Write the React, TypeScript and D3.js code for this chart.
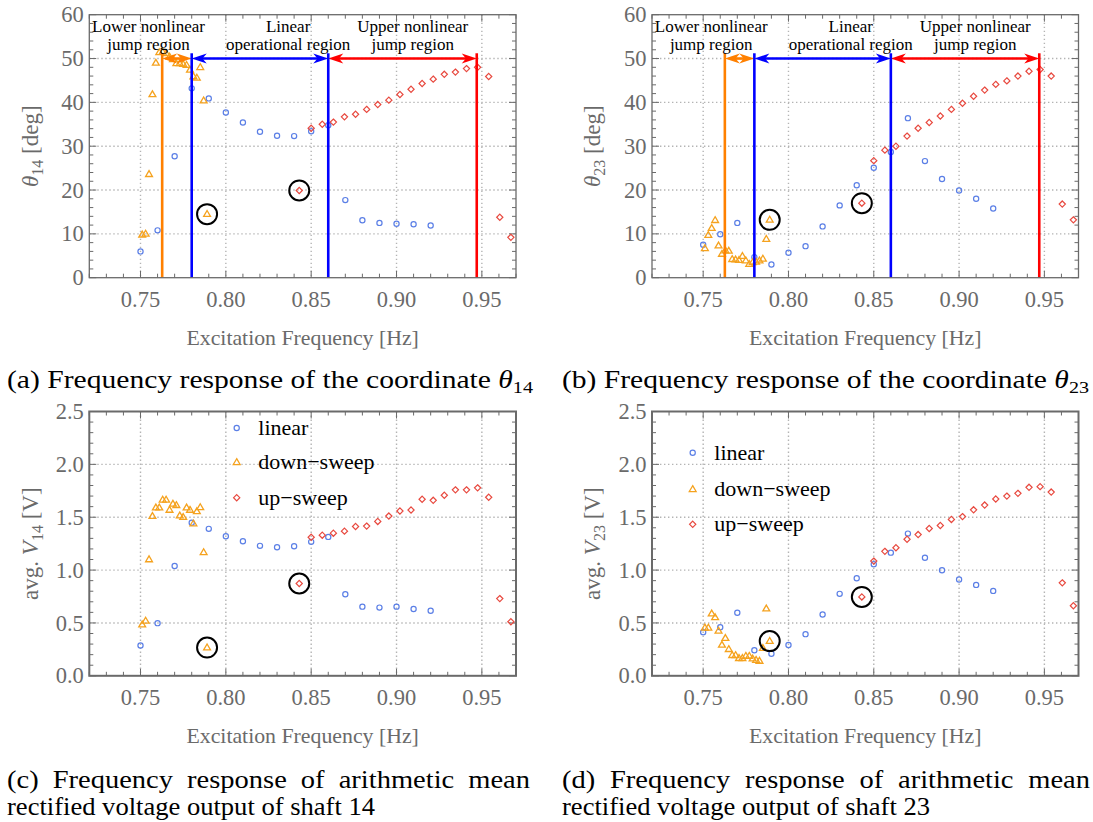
import React from 'react';
import * as d3 from 'd3';

// ---- measured frequencies [Hz] ----
const freqLinear = [0.75, 0.76, 0.77, 0.78, 0.79, 0.80, 0.81, 0.82, 0.83, 0.84, 0.85, 0.86, 0.87, 0.88, 0.89, 0.90, 0.91, 0.92];
const freqDown = [0.751, 0.753, 0.755, 0.757, 0.759, 0.761, 0.763, 0.765, 0.767, 0.769, 0.771, 0.773, 0.775, 0.777, 0.779, 0.781, 0.783, 0.785, 0.787, 0.789];
const freqUp = [0.843, 0.85, 0.8565, 0.863, 0.8695, 0.876, 0.8825, 0.889, 0.8955, 0.902, 0.9085, 0.915, 0.9215, 0.928, 0.9345, 0.941, 0.9475, 0.954, 0.9605, 0.967];

// ---- coordinate theta14 [deg] ----
const theta14Linear = [6.0, 10.8, 27.7, 43.2, 40.9, 37.7, 35.4, 33.3, 32.4, 32.3, 33.4, 34.8, 17.7, 13.1, 12.5, 12.3, 12.2, 11.9];
const theta14Down = [9.8, 10.0, 23.6, 41.8, 49.0, 51.4, 51.5, 51.2, 50.4, 49.8, 48.9, 48.9, 48.7, 48.5, 47.4, 45.9, 45.6, 48.0, 40.4, 14.5];
const theta14Up = [19.9, 34.1, 35.0, 35.5, 36.7, 37.3, 38.4, 39.5, 40.5, 41.8, 43.0, 44.3, 45.3, 46.4, 46.9, 47.7, 48.0, 45.9, 13.8, 9.2];

// ---- coordinate theta23 [deg] ----
const theta23Linear = [7.5, 9.9, 12.5, 4.7, 3.0, 5.7, 7.2, 11.7, 16.5, 21.1, 25.1, 28.7, 36.4, 26.6, 22.5, 19.9, 18.0, 15.8];
const theta23Down = [6.7, 9.7, 11.3, 13.1, 7.3, 5.4, 6.2, 6.1, 4.2, 4.1, 4.0, 4.9, 3.9, 3.1, 3.5, 3.6, 3.9, 4.3, 8.8, 13.2];
const theta23Up = [17.0, 26.7, 29.1, 30.0, 32.3, 34.1, 35.4, 36.9, 38.4, 39.8, 41.4, 42.8, 44.1, 44.9, 46.0, 47.1, 47.5, 46.0, 16.8, 13.2];

// ---- mean rectified voltage, shaft 14 [V] ----
const v14Linear = [0.286, 0.498, 1.038, 1.448, 1.39, 1.32, 1.273, 1.229, 1.216, 1.226, 1.267, 1.314, 0.771, 0.654, 0.645, 0.654, 0.632, 0.616];
const v14Down = [0.483, 0.52, 1.10, 1.51, 1.59, 1.59, 1.664, 1.664, 1.568, 1.626, 1.613, 1.514, 1.50, 1.59, 1.568, 1.44, 1.555, 1.593, 1.168, 0.267];
const v14Up = [0.873, 1.311, 1.330, 1.349, 1.368, 1.412, 1.416, 1.460, 1.511, 1.559, 1.568, 1.670, 1.660, 1.708, 1.759, 1.759, 1.778, 1.689, 0.730, 0.511];

// ---- mean rectified voltage, shaft 23 [V] ----
const v23Linear = [0.413, 0.460, 0.597, 0.242, 0.209, 0.292, 0.394, 0.580, 0.775, 0.923, 1.056, 1.165, 1.345, 1.117, 0.999, 0.911, 0.860, 0.803];
const v23Down = [0.454, 0.454, 0.587, 0.552, 0.425, 0.292, 0.356, 0.251, 0.194, 0.194, 0.166, 0.166, 0.187, 0.187, 0.162, 0.149, 0.140, 0.261, 0.635, 0.328];
const v23Up = [0.746, 1.085, 1.177, 1.211, 1.292, 1.336, 1.393, 1.422, 1.479, 1.506, 1.570, 1.615, 1.672, 1.700, 1.726, 1.783, 1.789, 1.738, 0.879, 0.663];

// highlighted samples (first down-sweep jump / first up-sweep jump)
const ringDownFreq = 0.789;
const ringUpFreq = 0.843;

// region boundaries [Hz]: lower jump | linear | upper jump
const regionBounds = [0.7627, 0.78, 0.86, 0.947];
const regionTitles = [
  ['Lower nonlinear', 'jump region'],
  ['Linear', 'operational region'],
  ['Upper nonlinear', 'jump region'],
];
const regionTitleFreq = [0.7547, 0.8365, 0.9095];
const regionArrowLevel = 50;
const regionLineTop = 51.2;

// axes
const xDomain = [0.72, 0.97];
const xTickValues = [0.75, 0.8, 0.85, 0.9, 0.95];
const xTickLabels = ['0.75', '0.80', '0.85', '0.90', '0.95'];
const thetaTickValues = [0, 10, 20, 30, 40, 50, 60];
const thetaTickLabels = ['0', '10', '20', '30', '40', '50', '60'];
const voltTickValues = [0, 0.5, 1.0, 1.5, 2.0, 2.5];
const voltTickLabels = ['0.0', '0.5', '1.0', '1.5', '2.0', '2.5'];
const legendLabels = ['linear', 'down\u2212sweep', 'up\u2212sweep'];

// captions
const captionVoltFirst = ['(c) Frequency response of arithmetic mean', '(d) Frequency response of arithmetic mean'];
const captionVoltSecond = ['rectified voltage output of shaft 14', 'rectified voltage output of shaft 23'];

const BLUE = '#5b7fe6';
const ORANGE = '#f5a21e';
const RED = '#e8493f';
const LINE_ORANGE = '#ff8000';
const LINE_BLUE = '#0000ff';
const LINE_RED = '#ff0000';
const AXIS_GRAY = '#6a6a6a';
const GRID_GRAY = '#b4b4b4';
const SERIF = '"Liberation Serif", "Times New Roman", serif';
const CAP_SIZE = 25;
const CAP_STRETCH = 1.14;

type Shape = 'circle' | 'tri' | 'diamond';

function Marker({ shape, cx, cy, color }: { shape: Shape; cx: number; cy: number; color: string }) {
  if (shape === 'circle') {
    return <circle cx={cx} cy={cy} r={2.6} fill="none" stroke={color} strokeWidth={1.2} />;
  }
  if (shape === 'tri') {
    const s = 3.6;
    const d = `M${cx},${cy - s}L${cx + s * 0.95},${cy + s * 0.62}L${cx - s * 0.95},${cy + s * 0.62}Z`;
    return <path d={d} fill="none" stroke={color} strokeWidth={1.3} strokeLinejoin="miter" />;
  }
  const s = 3.1;
  const d = `M${cx},${cy - s}L${cx + s},${cy}L${cx},${cy + s}L${cx - s},${cy}Z`;
  return <path d={d} fill="none" stroke={color} strokeWidth={1.2} />;
}

function arrowHead(tipX: number, y: number, dir: number, color: string, key: string) {
  const L = 15;
  const W = 10;
  const d = `M${tipX},${y}L${tipX - dir * L},${y - W / 2}L${tipX - dir * L * 0.72},${y}L${tipX - dir * L},${y + W / 2}Z`;
  return <path key={key} d={d} fill={color} stroke="none" />;
}

type SeriesDef = { xs: number[]; ys: number[]; shape: Shape; color: string };

type PanelProps = {
  left: number;
  right: number;
  top: number;
  bottom: number;
  yTickValues: number[];
  yTickLabels: string[];
  yMinorCount: number;
  series: SeriesDef[];
  rings: [number, number][];
  regions: boolean;
  yLabel: React.ReactNode;
  yLabelX: number;
  legend?: { dx: number; rows: number[] };
  frameWidth: number;
};

function Panel(p: PanelProps) {
  const x = d3.scaleLinear().domain(xDomain).range([p.left, p.right]);
  const yMax = p.yTickValues[p.yTickValues.length - 1];
  const y = d3.scaleLinear().domain([0, yMax]).range([p.bottom, p.top]);
  const xMinor = x.ticks(25);
  const yMinor = y.ticks(p.yMinorCount);
  const isMajor = (v: number, arr: number[]) => arr.some((a) => Math.abs(a - v) < 1e-9);
  const majorLen = 7;
  const minorLen = 4;
  const tickStroke = AXIS_GRAY;
  const els: React.ReactNode[] = [];

  // grid
  xTickValues.forEach((v, i) =>
    els.push(
      <line key={`gx${i}`} x1={x(v)} x2={x(v)} y1={p.top} y2={p.bottom} stroke={GRID_GRAY} strokeWidth={1.4} strokeDasharray="1.4 2.6" />
    )
  );
  p.yTickValues.slice(1, -1).forEach((v, i) =>
    els.push(
      <line key={`gy${i}`} x1={p.left} x2={p.right} y1={y(v)} y2={y(v)} stroke={GRID_GRAY} strokeWidth={1.4} strokeDasharray="1.4 2.6" />
    )
  );

  // ticks on all four sides
  xMinor.forEach((v, i) => {
    const len = isMajor(v, xTickValues) ? majorLen : minorLen;
    els.push(<line key={`tb${i}`} x1={x(v)} x2={x(v)} y1={p.bottom} y2={p.bottom - len} stroke={tickStroke} strokeWidth={1} />);
    els.push(<line key={`tt${i}`} x1={x(v)} x2={x(v)} y1={p.top} y2={p.top + len} stroke={tickStroke} strokeWidth={1} />);
  });
  yMinor.forEach((v, i) => {
    const len = isMajor(v, p.yTickValues) ? majorLen : minorLen;
    els.push(<line key={`tl${i}`} x1={p.left} x2={p.left + len} y1={y(v)} y2={y(v)} stroke={tickStroke} strokeWidth={1} />);
    els.push(<line key={`tr${i}`} x1={p.right} x2={p.right - len} y1={y(v)} y2={y(v)} stroke={tickStroke} strokeWidth={1} />);
  });

  // data
  p.series.forEach((s, si) =>
    s.xs.forEach((fx, i) =>
      els.push(<Marker key={`m${si}_${i}`} shape={s.shape} cx={x(fx)} cy={y(s.ys[i])} color={s.color} />)
    )
  );

  // highlighted rings
  p.rings.forEach(([fx, fy], i) =>
    els.push(<circle key={`ring${i}`} cx={x(fx)} cy={y(fy)} r={10} fill="none" stroke="#000" strokeWidth={2} />)
  );

  // operating-region markup
  if (p.regions) {
    const [b0, b1, b2, b3] = regionBounds;
    const ya = y(regionArrowLevel);
    const lineCols = [LINE_ORANGE, LINE_BLUE, LINE_BLUE, LINE_RED];
    const spans: [number, number, string][] = [
      [b0, b1, LINE_ORANGE],
      [b1, b2, LINE_BLUE],
      [b2, b3, LINE_RED],
    ];
    spans.forEach(([a, b, c], i) => {
      const xa = x(a);
      const xb = x(b);
      els.push(<line key={`as${i}`} x1={xa + 6} x2={xb - 6} y1={ya} y2={ya} stroke={c} strokeWidth={2.6} />);
      els.push(arrowHead(xa, ya, -1, c, `ahl${i}`));
      els.push(arrowHead(xb, ya, 1, c, `ahr${i}`));
    });
    [b0, b1, b2, b3].forEach((b, i) =>
      els.push(
        <line key={`vl${i}`} x1={x(b)} x2={x(b)} y1={y(regionLineTop)} y2={p.bottom} stroke={lineCols[i]} strokeWidth={2.6} />
      )
    );
    regionTitles.forEach((lines, i) =>
      lines.forEach((t, j) =>
        els.push(
          <text key={`rt${i}_${j}`} x={x(regionTitleFreq[i])} y={p.top + 17.2 + j * 17.6} textAnchor="middle" fontSize={17} fontFamily={SERIF} fill="#000">
            {t}
          </text>
        )
      )
    );
  }

  // frame
  els.push(
    <rect key="frame" x={p.left} y={p.top} width={p.right - p.left} height={p.bottom - p.top} fill="none" stroke={AXIS_GRAY} strokeWidth={p.frameWidth} />
  );

  // tick labels
  xTickValues.forEach((v, i) =>
    els.push(
      <text key={`xl${i}`} x={x(v)} y={p.bottom + 29} textAnchor="middle" fontSize={22.5} fontFamily={SERIF} fill={AXIS_GRAY}>
        {xTickLabels[i]}
      </text>
    )
  );
  p.yTickValues.forEach((v, i) =>
    els.push(
      <text key={`yl${i}`} x={p.left - 5.5} y={y(v) + 7.6} textAnchor="end" fontSize={22.5} fontFamily={SERIF} fill={AXIS_GRAY}>
        {p.yTickLabels[i]}
      </text>
    )
  );

  // axis titles
  els.push(
    <text key="xt" x={(p.left + p.right) / 2} y={p.bottom + 67} textAnchor="middle" fontSize={21.8} fontFamily={SERIF} fill={AXIS_GRAY}>
      Excitation Frequency [Hz]
    </text>
  );
  els.push(
    <text
      key="yt"
      transform={`translate(${p.yLabelX},${(p.top + p.bottom) / 2}) rotate(-90)`}
      textAnchor="middle"
      fontSize={23}
      fontFamily={SERIF}
      fill={AXIS_GRAY}
    >
      {p.yLabel}
    </text>
  );

  // legend
  if (p.legend) {
    const shapes: Shape[] = ['circle', 'tri', 'diamond'];
    const cols = [BLUE, ORANGE, RED];
    p.legend.rows.forEach((dy, i) => {
      const mx = p.left + p.legend!.dx;
      const my = p.top + dy;
      els.push(<Marker key={`lgm${i}`} shape={shapes[i]} cx={mx} cy={my} color={cols[i]} />);
      els.push(
        <text key={`lgt${i}`} x={mx + 21.6} y={my + 7} fontSize={22} fontFamily={SERIF} fill="#000">
          {legendLabels[i]}
        </text>
      );
    });
  }

  return <g>{els}</g>;
}

function thetaLabel(sub: string) {
  return (
    <>
      <tspan fontStyle="italic">θ</tspan>
      <tspan dy={5} fontSize={16}>
        {sub}
      </tspan>
      <tspan dy={-5}> [deg]</tspan>
    </>
  );
}

function voltLabel(sub: string) {
  return (
    <>
      <tspan>avg. </tspan>
      <tspan fontStyle="italic">V</tspan>
      <tspan dy={5} fontSize={16}>
        {sub}
      </tspan>
      <tspan dy={-5}> [V]</tspan>
    </>
  );
}

const ringValue = (xs: number[], ys: number[], f: number) => ys[xs.findIndex((v) => Math.abs(v - f) < 1e-9)];

// natural text width, used to justify the first line of a wrapped caption
function measure(text: string, size: number): number {
  const c = document.createElement('canvas').getContext('2d');
  if (!c) return text.length * size * 0.42;
  c.font = `${size}px "Liberation Serif", "Times New Roman", serif`;
  return c.measureText(text).width;
}

// justified caption line: part of the extra width widens the glyphs, the rest goes into word gaps
function JustifiedLine({ text, x, y, width }: { text: string; x: number; y: number; width: number }) {
  const natural = measure(text, CAP_SIZE) * CAP_STRETCH;
  const gaps = text.split(' ').length - 1;
  const extra = Math.max(0, (width - natural) / gaps / CAP_STRETCH);
  return (
    <text x={x} y={y} fontFamily={SERIF} fontSize={CAP_SIZE} fill="#000" wordSpacing={extra} textLength={width} lengthAdjust="spacingAndGlyphs">
      {text}
    </text>
  );
}

export default function App() {
  const LC = { left: 89.3, right: 516 };
  const RC = { left: 652, right: 1078.5 };
  const TOP = { top: 14.7, bottom: 277.7 };
  const BOT = { top: 411.5, bottom: 675.8 };

  const mk = (lin: number[], down: number[], up: number[]): SeriesDef[] => [
    { xs: freqLinear, ys: lin, shape: 'circle', color: BLUE },
    { xs: freqDown, ys: down, shape: 'tri', color: ORANGE },
    { xs: freqUp, ys: up, shape: 'diamond', color: RED },
  ];
  const rings = (down: number[], up: number[]): [number, number][] => [
    [ringDownFreq, ringValue(freqDown, down, ringDownFreq)],
    [ringUpFreq, ringValue(freqUp, up, ringUpFreq)],
  ];

  const capStyle = { fontFamily: SERIF, fontSize: CAP_SIZE, fill: '#000' } as const;

  return (
    <svg width={1093} height={822} style={{ position: 'absolute', left: 0, top: 0, background: '#fff' }}>
      <rect x={0} y={0} width={1093} height={822} fill="#fff" />
      <Panel
        {...LC}
        {...TOP}
        yTickValues={thetaTickValues}
        yTickLabels={thetaTickLabels}
        yMinorCount={30}
        series={mk(theta14Linear, theta14Down, theta14Up)}
        rings={rings(theta14Down, theta14Up)}
        regions={true}
        yLabel={thetaLabel('14')}
        yLabelX={38}
        frameWidth={1.3}
      />
      <Panel
        {...RC}
        {...TOP}
        yTickValues={thetaTickValues}
        yTickLabels={thetaTickLabels}
        yMinorCount={30}
        series={mk(theta23Linear, theta23Down, theta23Up)}
        rings={rings(theta23Down, theta23Up)}
        regions={true}
        yLabel={thetaLabel('23')}
        yLabelX={600}
        frameWidth={1.3}
      />
      <Panel
        {...LC}
        {...BOT}
        yTickValues={voltTickValues}
        yTickLabels={voltTickLabels}
        yMinorCount={25}
        series={mk(v14Linear, v14Down, v14Up)}
        rings={rings(v14Down, v14Up)}
        regions={false}
        yLabel={voltLabel('14')}
        yLabelX={38}
        legend={{ dx: 147.4, rows: [16.5, 50.8, 86.2] }}
        frameWidth={2}
      />
      <Panel
        {...RC}
        {...BOT}
        yTickValues={voltTickValues}
        yTickLabels={voltTickLabels}
        yMinorCount={25}
        series={mk(v23Linear, v23Down, v23Up)}
        rings={rings(v23Down, v23Up)}
        regions={false}
        yLabel={voltLabel('23')}
        yLabelX={600}
        legend={{ dx: 40.7, rows: [41.2, 77.8, 112.8] }}
        frameWidth={2}
      />

      {/* sub-figure captions */}
      <text x={7} y={388} {...capStyle} textLength={526} lengthAdjust="spacingAndGlyphs">
        (a) Frequency response of the coordinate <tspan fontStyle="italic">θ</tspan>
        <tspan dy={5} fontSize={17}>14</tspan>
      </text>
      <text x={562} y={388} {...capStyle} textLength={527} lengthAdjust="spacingAndGlyphs">
        (b) Frequency response of the coordinate <tspan fontStyle="italic">θ</tspan>
        <tspan dy={5} fontSize={17}>23</tspan>
      </text>
      <JustifiedLine text={captionVoltFirst[0]} x={7} y={788} width={523} />
      <text x={7} y={815} {...capStyle} textLength={368} lengthAdjust="spacingAndGlyphs">
        {captionVoltSecond[0]}
      </text>
      <JustifiedLine text={captionVoltFirst[1]} x={562} y={788} width={528} />
      <text x={562} y={815} {...capStyle} textLength={368} lengthAdjust="spacingAndGlyphs">
        {captionVoltSecond[1]}
      </text>
    </svg>
  );
}
